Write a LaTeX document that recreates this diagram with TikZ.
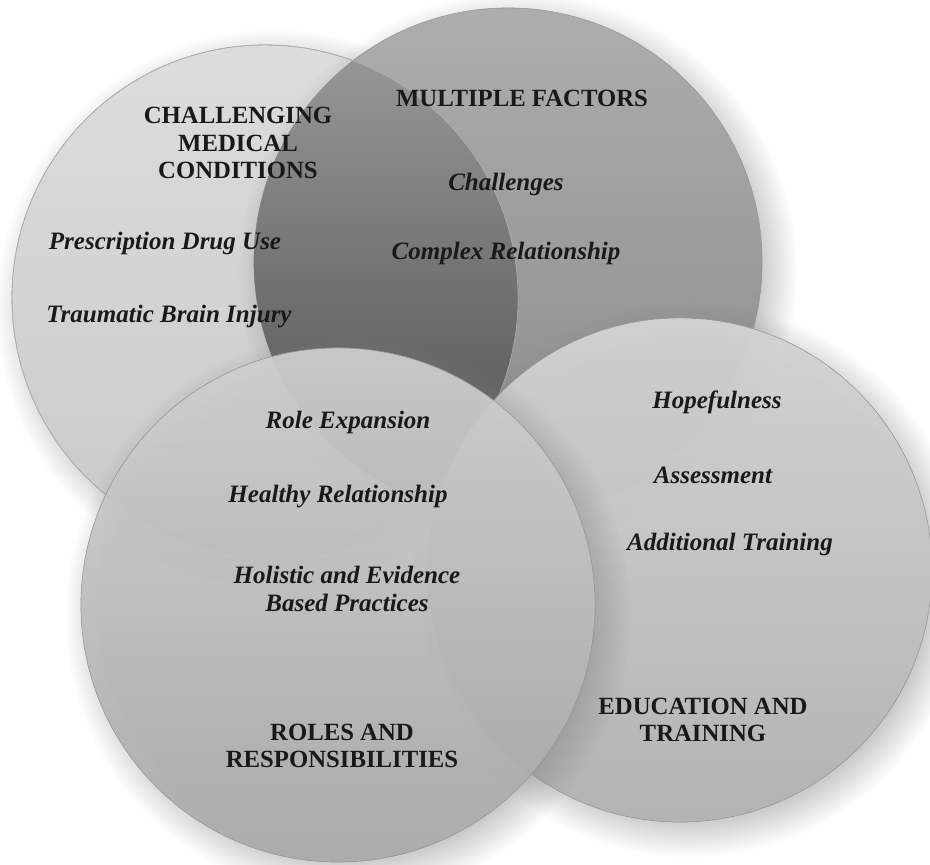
\documentclass[tikz,border=0pt]{standalone}
\usepackage{fontspec}
\setmainfont{Liberation Serif}
\usepackage{tikz}
\usetikzlibrary{shapes,shadows,positioning,calc}
\usepackage{xcolor}

\begin{document}
\begin{tikzpicture}[x=0.025cm, y=-0.025cm,
            bubble/.style={circle, draw=gray!85, line width=0.4pt, inner sep=0pt,
                circular drop shadow={shadow xshift=0.22cm, shadow yshift=-0.22cm, opacity=0.45}},
            head/.style={font=\fontsize{17.6}{19.8}\selectfont\bfseries, align=center, text=black!90},
            item/.style={font=\fontsize{17.8}{19.8}\selectfont\bfseries\itshape, align=center, text=black!90}]
            \useasboundingbox (0,0) rectangle (930,865);
            % the four circles
            \node[bubble, minimum size=12.65cm, top color=gray!27, bottom color=gray!42] (CMC) at (265,298) {};
            \node[bubble, minimum size=12.7cm, top color=gray!64, bottom color=gray!92] (MF) at (508,262) {};
            % darker overlap of the two upper circles
            \begin{scope}
                \clip (CMC.center) circle[radius=6.325cm];
                \shade[top color=black!38, bottom color=black!70] (MF.center) circle[radius=6.35cm];
            \end{scope}
            \draw[gray!60, line width=0.4pt] (CMC.center) circle[radius=6.325cm];
            \node[bubble, minimum size=12.6cm, top color=gray!34, bottom color=gray!60, fill opacity=0.94] (ET) at (680,570) {};
            \node[bubble, minimum size=12.85cm, top color=gray!36, bottom color=gray!68, fill opacity=0.9] (RR) at (338,605) {};
            % headings
            \node[head] (CMCt) at (238,143) {CHALLENGING\\MEDICAL\\CONDITIONS};
            \node[head] (MFt) at (522,98) {MULTIPLE FACTORS};
            \node[head] (RRt) at (342,746) {ROLES AND\\RESPONSIBILITIES};
            \node[head] (ETt) at (703,720) {EDUCATION AND\\TRAINING};
            % items
            \node[item] (Drug) at (165,243) {Prescription Drug Use};
            \node[item] (TBI) at (169,317) {Traumatic Brain Injury};
            \node[item] (Chal) at (506,184) {Challenges};
            \node[item] (Cplx) at (506,253) {Complex Relationship};
            \node[item] (Role) at (348,422) {Role Expansion};
            \node[item] (Hlth) at (338,497) {Healthy Relationship};
            \node[item] (Holi) at (347,589) {Holistic and Evidence\\Based Practices};
            \node[item] (Hope) at (717,402) {Hopefulness};
            \node[item] (Asmt) at (713,475) {Assessment};
            \node[item] (AddT) at (730,544) {Additional Training};
        \end{tikzpicture}
\end{document}
